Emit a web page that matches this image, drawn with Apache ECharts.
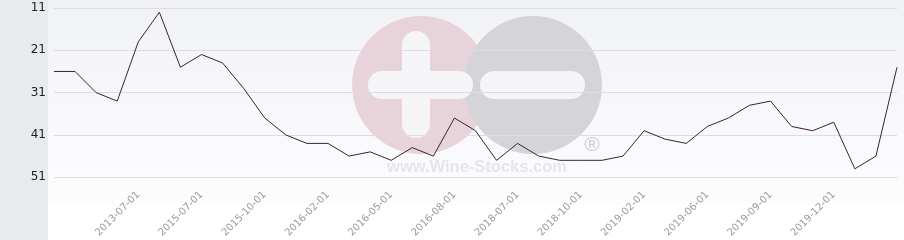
<!DOCTYPE html>
<html>
<head>
<meta charset="utf-8">
<script src="https://cdn.jsdelivr.net/npm/echarts@6/dist/echarts.min.js"></script>
<style>
html,body{margin:0;padding:0;background:#fff;}
#c{width:904px;height:240px;}
</style>
</head>
<body>
<div id="c"></div>
<script>
var categories = ['2012-10-01','2013-01-01','2013-03-01','2013-05-01','2013-07-01','2014-01-01','2015-01-01','2015-07-01','2015-08-01','2015-09-01','2015-10-01','2015-11-01','2016-01-01','2016-02-01','2016-03-01','2016-04-01','2016-05-01','2016-06-01','2016-07-01','2016-08-01','2017-01-01','2018-01-01','2018-07-01','2018-08-01','2018-09-01','2018-10-01','2018-11-01','2019-01-01','2019-02-01','2019-04-01','2019-05-01','2019-06-01','2019-07-01','2019-08-01','2019-09-01','2019-10-01','2019-11-01','2019-12-01','2020-01-01','2020-02-01','2020-03-01'];
var values = [26,26,31,33,19,12,25,22,24,30,37,41,43,43,46,45,47,44,46,37,40,47,43,46,47,47,47,46,40,42,43,39,37,34,33,39,40,38,49,46,25];
var yTicks = [11,21,31,41,51];
var shownLabels = ['2013-07-01','2015-07-01','2015-10-01','2016-02-01','2016-05-01','2016-08-01','2018-07-01','2018-10-01','2019-02-01','2019-06-01','2019-09-01','2019-12-01'];

var chart = echarts.init(document.getElementById('c'));
chart.setOption({
  animation: false,
  backgroundColor: '#ffffff',
  grid: {left: 54, right: 7, top: 8, bottom: 62, containLabel: false},
  graphic: [
    {type: 'rect', z: -100, silent: true, shape: {x: 48, y: 0, width: 856, height: 205},
     style: {fill: new echarts.graphic.LinearGradient(0, 0, 0, 1, [
       {offset: 0, color: '#f1f2f6'}, {offset: 1, color: '#fdfdfe'}])}},
    {type: 'rect', z: -100, silent: true, shape: {x: 0, y: 0, width: 48, height: 240}, style: {fill: '#e8ebee'}},
    {type: 'circle', z: -90, silent: true, shape: {cx: 421, cy: 85, r: 69}, style: {fill: '#e9d3db'}},
    {type: 'circle', z: -89, silent: true, shape: {cx: 533, cy: 85, r: 69}, style: {fill: '#d5d5d9'}},
    {type: 'rect', z: -88, silent: true, shape: {x: 402, y: 31, width: 28, height: 107, r: 14}, style: {fill: '#f5f5f8'}},
    {type: 'rect', z: -88, silent: true, shape: {x: 368, y: 71, width: 105, height: 28, r: 14}, style: {fill: '#f5f5f8'}},
    {type: 'rect', z: -88, silent: true, shape: {x: 480, y: 71, width: 105, height: 28, r: 14}, style: {fill: '#f5f5f8'}},
    {type: 'text', z: -87, silent: true, x: 592, y: 145,
     style: {text: '®', fill: '#cdcdd1', font: '21px "Liberation Sans", Arial, sans-serif', align: 'center', verticalAlign: 'middle'}},
    {type: 'text', z: -87, silent: true, x: 477, y: 167,
     style: {text: 'www.Wine-Stocks.com', fill: '#e6e6ea', font: 'bold 16.5px "Liberation Sans", Arial, sans-serif', align: 'center', verticalAlign: 'middle'}}
  ],
  xAxis: {
    type: 'category',
    data: categories,
    boundaryGap: false,
    axisLine: {show: false},
    axisTick: {show: false},
    splitLine: {show: false},
    axisLabel: {
      rotate: 45,
      margin: 16,
      color: '#9a9a9a',
      fontSize: 10,
      fontFamily: 'DejaVu Sans',
      interval: function (i, v) { return shownLabels.indexOf(v) >= 0; }
    }
  },
  yAxis: {
    type: 'value',
    inverse: true,
    min: yTicks[0],
    max: yTicks[yTicks.length - 1],
    interval: 10,
    axisLine: {show: false},
    axisTick: {show: false},
    axisLabel: {color: '#222', fontSize: 12, fontFamily: 'DejaVu Sans', margin: 8},
    splitLine: {show: true, lineStyle: {color: '#dcdde2', width: 1}}
  },
  series: [{
    type: 'line',
    data: values,
    symbol: 'none',
    lineStyle: {color: '#3b2230', width: 1},
    z: 5
  }]
});
</script>
</body>
</html>
